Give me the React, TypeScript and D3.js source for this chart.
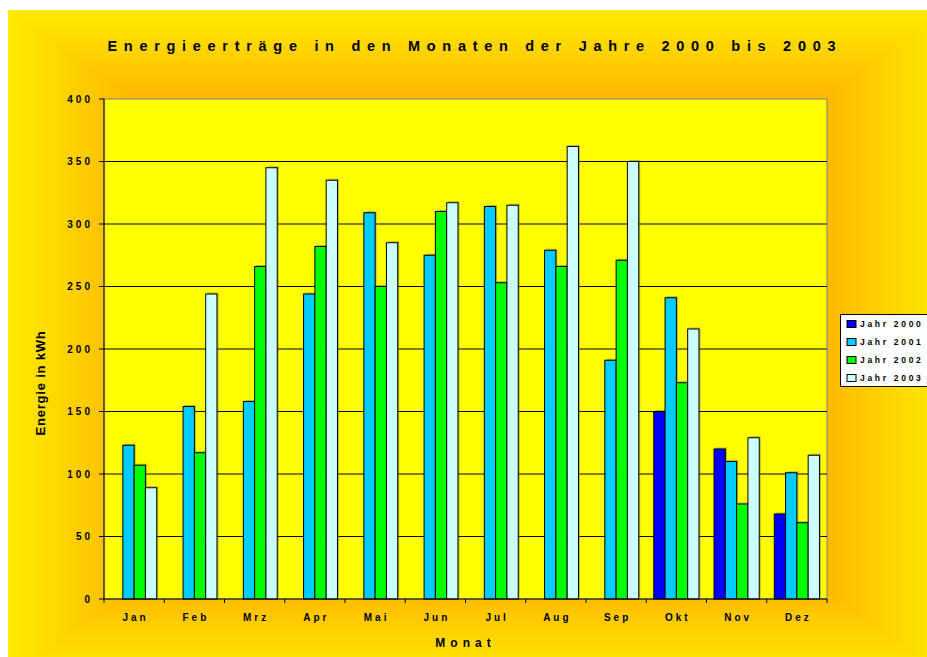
import React from 'react';
import * as d3 from 'd3';

const months = ['Jan', 'Feb', 'Mrz', 'Apr', 'Mai', 'Jun', 'Jul', 'Aug', 'Sep', 'Okt', 'Nov', 'Dez'];
const years = ['Jahr 2000', 'Jahr 2001', 'Jahr 2002', 'Jahr 2003'];
const jahr2000: (number | null)[] = [null, null, null, null, null, null, null, null, null, 150, 120, 68];
const jahr2001 = [123, 154, 158, 244, 309, 275, 314, 279, 191, 241, 110, 101];
const jahr2002 = [107, 117, 266, 282, 250, 310, 253, 266, 271, 173, 76, 61];
const jahr2003 = [89, 244, 345, 335, 285, 317, 315, 362, 350, 216, 129, 115];
const yTicks = [0, 50, 100, 150, 200, 250, 300, 350, 400];
const colors = ['#0000FF', '#00CCFF', '#00FF00', '#CCFFFF'];

const series = [jahr2000, jahr2001, jahr2002, jahr2003];

const W = 927, H = 657;
const P = { left: 104, right: 827, top: 99, bottom: 599 };
const BG = { x0: 8, y0: 10, x1: 946, y1: 676 };
const FONT = "'Liberation Sans', Arial, sans-serif";

export default function App() {
  const x0 = d3.scaleBand<string>().domain(months).range([P.left, P.right]).paddingInner(0.25).paddingOuter(0.125);
  const x1 = d3.scaleBand<string>().domain(years).range([0, x0.bandwidth()]).padding(0);
  const y = d3.scaleLinear().domain([0, 400]).range([P.bottom, P.top]);
  const step = x0.step();
  const cx = (BG.x0 + BG.x1) / 2, cy = (BG.y0 + BG.y1) / 2;

  const stops = (
    <>
      <stop offset="0" stopColor="#FFEC00" />
      <stop offset="0.28" stopColor="#FFB400" />
      <stop offset="1" stopColor="#FFA000" />
    </>
  );

  const shadows: JSX.Element[] = [];
  const barFaces: JSX.Element[] = [];
  months.forEach((m, i) => {
    series.forEach((s, j) => {
      const v = s[i];
      if (v == null) return;
      const bx = (x0(m) as number) + (x1(years[j]) as number);
      const bw = x1.bandwidth();
      const by = y(v);
      shadows.push(
        <rect key={`s${m}-${j}`} x={bx + 1.5} y={by - 1.5} width={bw} height={P.bottom - by} fill="#666" opacity={0.45} />
      );
      barFaces.push(
        <rect key={`f${m}-${j}`} x={bx} y={by} width={bw} height={P.bottom - by} fill={colors[j]} stroke="#000" strokeWidth={1} />
      );
    });
  });

  const tri = (pts: string, id: string) => (
    <polygon points={pts} fill={`url(#${id})`} stroke={`url(#${id})`} strokeWidth={1.5} strokeLinejoin="round" />
  );

  return (
    <svg width={W} height={H} style={{ position: 'absolute', left: 0, top: 0 }} fontFamily={FONT}>
      <defs>
        <linearGradient id="gTop" gradientUnits="userSpaceOnUse" x1={cx} y1={BG.y0} x2={cx} y2={cy}>{stops}</linearGradient>
        <linearGradient id="gBot" gradientUnits="userSpaceOnUse" x1={cx} y1={BG.y1} x2={cx} y2={cy}>{stops}</linearGradient>
        <linearGradient id="gLeft" gradientUnits="userSpaceOnUse" x1={BG.x0} y1={cy} x2={cx} y2={cy}>{stops}</linearGradient>
        <linearGradient id="gRight" gradientUnits="userSpaceOnUse" x1={BG.x1} y1={cy} x2={cx} y2={cy}>{stops}</linearGradient>
        <clipPath id="bgClip"><rect x={BG.x0} y={BG.y0} width={BG.x1 - BG.x0} height={BG.y1 - BG.y0} /></clipPath>
      </defs>
      <rect x={0} y={0} width={W} height={H} fill="#fff" />
      <g clipPath="url(#bgClip)">
        {tri(`${BG.x0},${BG.y0} ${BG.x1},${BG.y0} ${cx},${cy}`, 'gTop')}
        {tri(`${BG.x0},${BG.y1} ${BG.x1},${BG.y1} ${cx},${cy}`, 'gBot')}
        {tri(`${BG.x0},${BG.y0} ${BG.x0},${BG.y1} ${cx},${cy}`, 'gLeft')}
        {tri(`${BG.x1},${BG.y0} ${BG.x1},${BG.y1} ${cx},${cy}`, 'gRight')}
      </g>

      <text x={471.5 + 3.35} y={51} textAnchor="middle" fontSize={14.5} fontWeight="bold" letterSpacing={6.7} fill="#000">
        Energieerträge in den Monaten der Jahre 2000 bis 2003
      </text>

      <rect x={P.left} y={P.top} width={P.right - P.left} height={P.bottom - P.top} fill="#FFFF00" stroke="#808080" strokeWidth={1} />
      {yTicks.filter(t => t > 0 && t < 400).map(t => (
        <line key={t} x1={P.left} x2={P.right} y1={y(t)} y2={y(t)} stroke="#000" strokeWidth={1} />
      ))}

      {shadows}
      {barFaces}

      <line x1={P.left} x2={P.left} y1={P.top} y2={P.bottom} stroke="#000" strokeWidth={1} />
      <line x1={P.left} x2={P.right} y1={P.bottom} y2={P.bottom} stroke="#000" strokeWidth={1} />

      {yTicks.map(t => (
        <g key={`yt${t}`}>
          <line x1={P.left - 5} x2={P.left} y1={y(t)} y2={y(t)} stroke="#000" strokeWidth={1} />
          <text x={90 + 3} y={y(t) + 3.5} textAnchor="end" fontSize={10} fontWeight="bold" letterSpacing={3} fill="#000">{t}</text>
        </g>
      ))}
      {d3.range(months.length + 1).map(i => (
        <line key={`xt${i}`} x1={P.left + i * step} x2={P.left + i * step} y1={P.bottom} y2={P.bottom + 4} stroke="#000" strokeWidth={1} />
      ))}
      {months.map(m => (
        <text key={`xl${m}`} x={(x0(m) as number) + x0.bandwidth() / 2 + 1.5} y={621} textAnchor="middle" fontSize={10} fontWeight="bold" letterSpacing={3} fill="#000">{m}</text>
      ))}

      <text x={463 + 2.5} y={647} textAnchor="middle" fontSize={12} fontWeight="bold" letterSpacing={5} fill="#000">Monat</text>
      <text transform={`translate(45,383) rotate(-90)`} textAnchor="middle" fontSize={13} fontWeight="bold" letterSpacing={0.8} fill="#000">Energie in kWh</text>

      <rect x={840.5} y={314.5} width={110} height={72} fill="#fff" stroke="#000" strokeWidth={1} />
      {years.map((yr, j) => (
        <g key={yr} transform={`translate(0,${324 + j * 18})`}>
          <rect x={847} y={-3.5} width={9} height={7} fill={colors[j]} stroke="#000" strokeWidth={1} />
          <text x={860} y={3} fontSize={8.5} fontWeight="bold" letterSpacing={2.7} fill="#000">{yr}</text>
        </g>
      ))}
    </svg>
  );
}
